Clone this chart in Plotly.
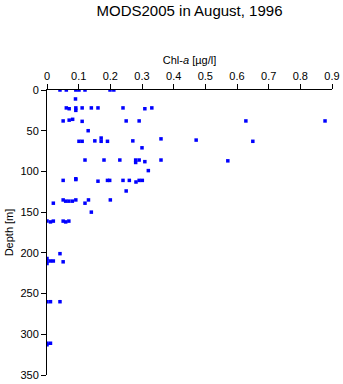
import plotly.graph_objects as go

chl = [
    0.041, 0.061, 0.091, 0.101, 0.120, 0.199, 0.211,
    0.090,
    0.061, 0.111, 0.140, 0.161, 0.240, 0.331, 0.070, 0.309, 0.091, 0.091,
    0.628, 0.878,
    0.051, 0.070, 0.081, 0.111, 0.250, 0.291,
    0.130,
    0.101, 0.111, 0.151, 0.171, 0.171, 0.191, 0.271, 0.360, 0.471, 0.650,
    0.300,
    0.120, 0.180, 0.230, 0.280, 0.280, 0.291, 0.309, 0.360, 0.571,
    0.320,
    0.091,
    0.051, 0.091, 0.161, 0.191, 0.198, 0.240, 0.260, 0.281, 0.291, 0.301,
    0.250,
    0.020, 0.051, 0.059, 0.069, 0.080, 0.091, 0.120, 0.131, 0.200,
    0.140,
    0.000, 0.011, 0.020, 0.051, 0.059, 0.069,
    0.041,
    0.000, 0.000, 0.000, 0.011, 0.020, 0.051,
    0.000, 0.011, 0.041,
    0.000, 0.011, 0.000,
]
depth = [
    0, 0, 0, 0, 0, 0, 0,
    11,
    22, 22, 22, 22, 22, 22, 23, 23, 22, 25,
    38, 38,
    38, 37, 36, 38.5, 38, 38,
    50,
    63, 63, 62.5, 59, 63, 63, 62.5, 60, 61.5, 63,
    71,
    86, 86, 86, 86, 89, 86, 88, 86, 87,
    99,
    109,
    111, 110, 112, 111, 111, 111, 111, 113, 111, 111,
    124,
    139, 135, 136.5, 136.5, 136.5, 135, 139, 135, 135,
    150,
    161, 162, 161, 161, 162, 161,
    201,
    207, 210, 213, 210, 210, 211,
    260, 260, 260,
    311, 311, 313,
]

fig = go.Figure()
fig.add_trace(go.Scatter(
    x=chl, y=depth, mode="markers",
    marker=dict(symbol="square", size=3.5, color="#0000FF", line=dict(width=0)),
    showlegend=False,
))

font = "Liberation Sans, Arial, sans-serif"
fig.update_layout(
    width=343, height=384,
    margin=dict(l=47, r=11, t=90, b=9, autoexpand=False),
    paper_bgcolor="white", plot_bgcolor="white",
    font=dict(family=font, size=11, color="black"),
    title=dict(text="MODS2005 in August, 1996", x=0.5, xref="paper",
               y=0.972, yref="container", yanchor="middle",
               font=dict(size=15, family=font)),
    xaxis=dict(side="top", range=[0, 0.9], dtick=0.1, tick0=0,
               ticks="outside", ticklen=5, tickwidth=1, tickcolor="black",
               showline=True, linecolor="black", linewidth=1,
               showgrid=False, zeroline=False, automargin=False,
               title=dict(text="Chl-<i>a</i> [µg/l]", standoff=2,
                          font=dict(size=11))),
    yaxis=dict(range=[350, 0], dtick=50, tick0=0,
               ticks="outside", ticklen=5, tickwidth=1, tickcolor="black",
               showline=True, linecolor="black", linewidth=1,
               showgrid=False, zeroline=False, automargin=False,
               title=dict(text="Depth [m]", standoff=4,
                          font=dict(size=11))),
)
fig.write_html("out.html", config={"displayModeBar": False},
               post_script="document.body.style.margin='0';document.body.style.overflow='hidden';")
